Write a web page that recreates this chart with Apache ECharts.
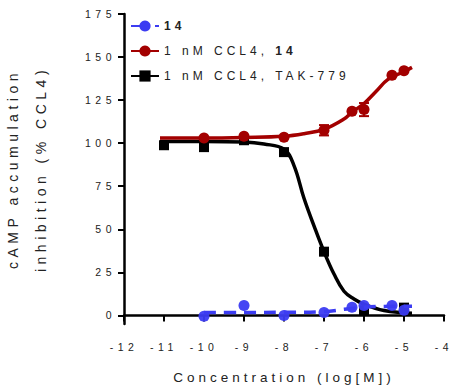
<!DOCTYPE html>
<html>
<head>
<meta charset="utf-8">
<title>cAMP</title>
<script src="https://cdn.jsdelivr.net/npm/echarts@6/dist/echarts.min.js"></script>
<style type="text/css">
html, body { margin: 0; padding: 0; background: #fff; }
#main { width: 449px; height: 391px; }
/* prism-style spaced lettering, picked by font size */
#main text[style*="10.5px"] { letter-spacing: 4.5px; }
#main text[style*="12px"] { letter-spacing: 4px; }
#main text[style*="13.5px"] { letter-spacing: 4px; }
#main text[style*="14px"] { letter-spacing: 4.5px; }
</style>
</head>
<body>
<div id="main"></div>
<script type="text/javascript">
// log concentrations
var xBlue = [-10, -9, -8, -7, -6.3, -6, -5.3, -5];
var yBlue = [-0.5, 5.8, 0, 1.7, 4.7, 5.8, 5.8, 3];
var xRed = [-10, -9, -8, -7, -6.3, -6, -5.3, -5];
var yRed = [103, 104, 103.5, 107.5, 118.5, 119.5, 139.5, 142];
var errRed = [0.5, 0.5, 0.5, 3, 0.5, 3.8, 0.5, 0.5];
var xBlack = [-11, -10, -9, -8, -7, -6, -5];
var yBlack = [98.8, 97.7, 101.7, 94.8, 37, 3, 4.5];

// fitted curves
var fitBlueX = [-10, -9, -8, -7, -6.5, -6, -5.5, -5, -4.8];
var fitBlueY = [1.7, 1.7, 1.8, 2.2, 3.5, 4.8, 5.2, 5.3, 5.3];
var fitRedX = [-11.1, -10, -9, -8, -7.5, -7, -6.5, -6.3, -6, -5.7, -5.4, -5, -4.8];
var fitRedY = [103, 103, 103.3, 104, 105.5, 108, 114, 118, 123, 130, 137, 141.5, 144];
var fitBlackX = [-11.1, -10, -9, -8.5, -8, -7.75, -7.5, -7.25, -7, -6.75, -6.5, -6.25, -6, -5.5, -5, -4.8];
var fitBlackY = [101, 101, 100.7, 99.5, 96.5, 87, 68, 52, 37, 24, 14, 9.5, 6.5, 2.8, 1.5, 1.2];

var yTicks = [0, 25, 50, 75, 100, 125, 150, 175];

var BLUE = '#3c3cf2', RED = '#a30000', BLACK = '#000000';
var FONT = 'Liberation Sans, Arial, sans-serif';

function pairs(xs, ys) {
	return xs.map(function (x, i) { return [x, ys[i]]; });
}

var myChart = echarts.init(document.getElementById('main'), null, { renderer: 'svg' });

var option = {
	animation: false,
	backgroundColor: '#fff',
	grid: { left: 124, right: 5, top: 14, bottom: 67, outerBoundsMode: 'none' },
	legend: {
		orient: 'vertical',
		left: 125,
		top: 15,
		itemWidth: 28,
		itemHeight: 14,
		itemGap: 13,
		data: [
			{ name: '14', lineStyle: { type: [17, 7] } },
			{ name: '1 nM CCL4, 14' },
			{ name: '1 nM CCL4, TAK-779' }
		],
		textStyle: {
			fontFamily: FONT, fontSize: 12, color: '#222',
			rich: {
				b: { fontFamily: FONT, fontSize: 12, fontWeight: 'bold', color: '#222' },
				// first token grows by 11 letter gaps, push the bold part along
				bb: { fontFamily: FONT, fontSize: 12, fontWeight: 'bold', color: '#222', padding: [0, 0, 0, 44] }
			}
		},
		formatter: function (name) {
			if (name === '14') return '{b|14}';
			if (name === '1 nM CCL4, 14') return '1 nM CCL4, {bb|14}';
			return name;
		}
	},
	xAxis: {
		type: 'value',
		min: -12,
		max: -4,
		interval: 1,
		name: 'Concentration (log[M])',
		nameLocation: 'middle',
		nameGap: 46,
		nameTextStyle: { fontFamily: FONT, fontSize: 13.5, color: '#222' },
		axisLine: { lineStyle: { color: BLACK, width: 2.5 } },
		axisTick: { length: 6, lineStyle: { color: BLACK, width: 2 } },
		axisLabel: { fontFamily: FONT, fontSize: 10.5, color: '#222', margin: 17 },
		splitLine: { show: false }
	},
	yAxis: {
		type: 'value',
		min: -5,
		max: 175,
		name: 'cAMP accumulation\ninhibition (% CCL4)',
		nameLocation: 'middle',
		nameGap: 69,
		nameTextStyle: { fontFamily: FONT, fontSize: 14, color: '#222', lineHeight: 28 },
		axisLine: { lineStyle: { color: BLACK, width: 2.5 } },
		axisTick: { length: 6, customValues: yTicks, lineStyle: { color: BLACK, width: 2 } },
		axisLabel: { fontFamily: FONT, fontSize: 10.5, color: '#222', margin: 8, customValues: yTicks },
		splitLine: { show: false }
	},
	series: [
		{
			name: '1 nM CCL4, TAK-779', type: 'line', smooth: 0.4,
			data: pairs(fitBlackX, fitBlackY),
			symbol: 'rect', symbolSize: 10, showSymbol: false,
			itemStyle: { color: BLACK },
			lineStyle: { color: BLACK, width: 3.5 }, z: 2
		},
		{
			name: '1 nM CCL4, TAK-779', type: 'scatter',
			data: pairs(xBlack, yBlack),
			symbol: 'rect', symbolSize: 10,
			itemStyle: { color: BLACK, opacity: 1 }, z: 3
		},
		{
			name: '1 nM CCL4, 14', type: 'line', smooth: 0.4,
			data: pairs(fitRedX, fitRedY),
			symbol: 'circle', symbolSize: 11, showSymbol: false,
			itemStyle: { color: RED },
			lineStyle: { color: RED, width: 3.5 }, z: 4
		},
		{
			name: '1 nM CCL4, 14', type: 'custom',
			renderItem: function (params, api) {
				var x = api.value(0), y = api.value(1), e = api.value(2);
				var top = api.coord([x, y + e]);
				var bot = api.coord([x, y - e]);
				var hw = 5;
				var st = { stroke: RED, lineWidth: 2 };
				return {
					type: 'group',
					children: [
						{ type: 'line', shape: { x1: top[0], y1: top[1], x2: bot[0], y2: bot[1] }, style: st },
						{ type: 'line', shape: { x1: top[0] - hw, y1: top[1], x2: top[0] + hw, y2: top[1] }, style: st },
						{ type: 'line', shape: { x1: bot[0] - hw, y1: bot[1], x2: bot[0] + hw, y2: bot[1] }, style: st }
					]
				};
			},
			data: xRed.map(function (x, i) { return [x, yRed[i], errRed[i]]; }),
			z: 4
		},
		{
			name: '1 nM CCL4, 14', type: 'scatter',
			data: pairs(xRed, yRed),
			symbol: 'circle', symbolSize: 11,
			itemStyle: { color: RED, opacity: 1 }, z: 5
		},
		{
			name: '14', type: 'line', smooth: 0.4,
			data: pairs(fitBlueX, fitBlueY),
			symbol: 'circle', symbolSize: 11, showSymbol: false,
			itemStyle: { color: BLUE },
			lineStyle: { color: BLUE, width: 3.5, type: [12, 8] }, z: 6
		},
		{
			name: '14', type: 'scatter',
			data: pairs(xBlue, yBlue),
			symbol: 'circle', symbolSize: 11,
			itemStyle: { color: BLUE, opacity: 0.95 }, z: 7
		}
	]
};
myChart.setOption(option);
</script>
</body>
</html>
